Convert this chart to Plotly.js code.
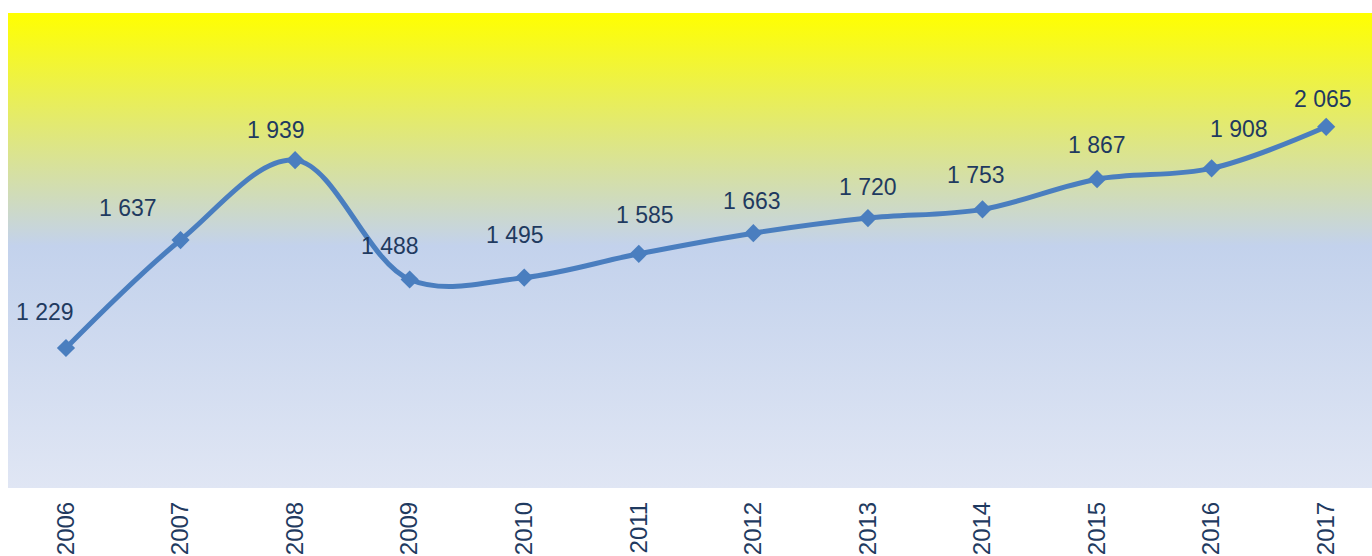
<!DOCTYPE html>
<html>
<head>
<meta charset="utf-8">
<script src="https://cdn.plot.ly/plotly-3.0.1.min.js"></script>
<style>
  html, body { margin: 0; padding: 0; background: #ffffff; }
  #wrap { position: relative; width: 1372px; height: 556px; }
  #bg { position: absolute; left: 8px; top: 13px; width: 1364px; height: 475px;
        background: linear-gradient(to bottom, #FFFF00 0%, #C3D2EC 49%, #E0E6F4 100%); }
  #chart { position: absolute; left: 0; top: 0; width: 1372px; height: 556px; }
</style>
</head>
<body>
<div id="wrap"><div id="bg"></div><div id="chart"></div></div>
<script>
const years = ['2006','2007','2008','2009','2010','2011','2012','2013','2014','2015','2016','2017'];
const values = [1229, 1637, 1939, 1488, 1495, 1585, 1663, 1720, 1753, 1867, 1908, 2065];

// label offsets in pixels (dx, dy) relative to each point
const labelDx = [-21, -53, -19, -20, -9, 6, -1, 0, -6, 0, 27, -3];
const labelDy = [36, 32, 30, 33, 43, 39, 32, 31, 34, 34, 39, 28];

const textColor = '#1F3A60';
const fmt = v => String(v).replace(/\B(?=(\d{3})+(?!\d))/g, ' ');

const annotations = years.map((y, i) => ({
  x: i, y: values[i], xref: 'x', yref: 'y',
  text: fmt(values[i]), showarrow: false,
  xshift: labelDx[i], yshift: labelDy[i],
  font: {family: 'Liberation Sans', size: 23, color: textColor}
}));

const trace = {
  x: years, y: values, type: 'scatter', mode: 'lines+markers',
  line: {color: '#4A7EBF', width: 5, shape: 'spline', smoothing: 1},
  marker: {symbol: 'diamond', size: 14, color: '#4A7EBF'},
  hoverinfo: 'skip'
};

const layout = {
  width: 1372, height: 556,
  margin: {l: 8, r: 0, t: 13, b: 68},
  paper_bgcolor: 'rgba(0,0,0,0)',
  plot_bgcolor: 'rgba(0,0,0,0)',
  showlegend: false,
  xaxis: {
    type: 'category', range: [-0.506, 11.40],
    showgrid: false, zeroline: false, showline: false,
    ticks: '', tickangle: -90, ticklabelstandoff: 8,
    tickfont: {family: 'Liberation Sans', size: 24, color: textColor}
  },
  yaxis: {
    range: [700, 2495], visible: false, showgrid: false, zeroline: false
  },
  annotations: annotations
};

Plotly.newPlot('chart', [trace], layout, {staticPlot: true, displayModeBar: false});
</script>
</body>
</html>
